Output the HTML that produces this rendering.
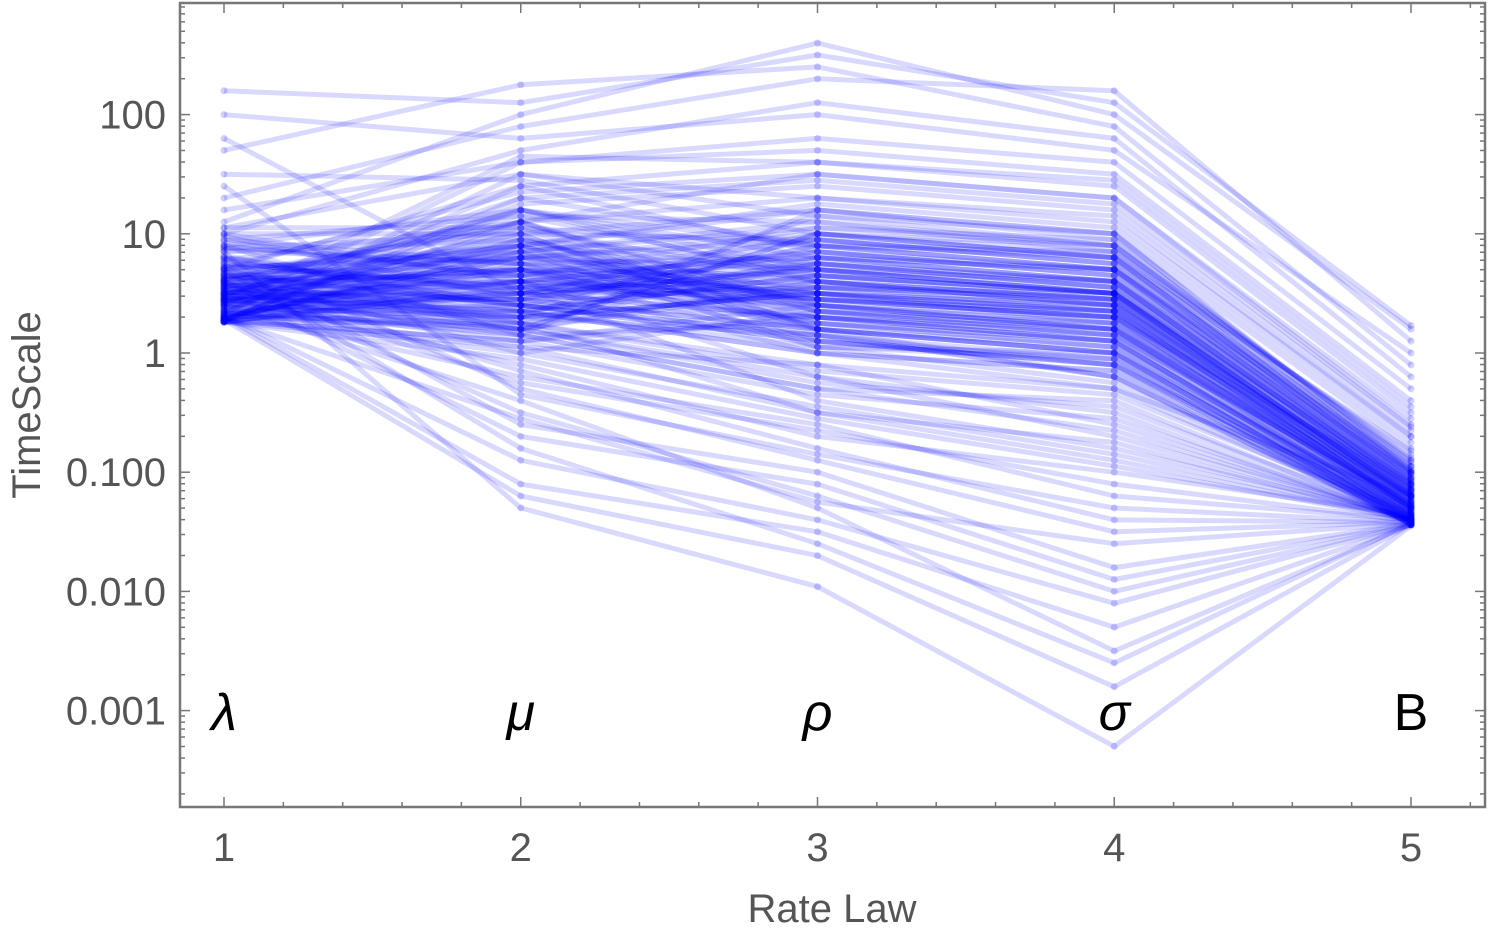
<!DOCTYPE html>
<html><head><meta charset="utf-8"><style>
html,body{margin:0;padding:0;background:#fff;}
svg{display:block;}
text{font-family:"Liberation Sans",sans-serif;}
</style></head><body>
<svg id="chart" width="1500" height="935" viewBox="0 0 1500 935" xmlns="http://www.w3.org/2000/svg">
<g id="lines"></g>
<g id="axes"></g>
</svg>
<script>
const categories=[1,2,3,4,5];
const axisLabels=["λ","μ","ρ","σ","B"];
const yTickValues=[2,1,0,-1,-2,-3];
const yTickLabels=["100","10","1","0.100","0.010","0.001"];
const lam=[0.26,0.3,0.35,0.28,0.42,0.5,0.33,0.27,0.6,0.45,0.38,0.29,0.55,0.7,0.31,0.48,0.26,0.65,0.4,0.36,0.8,0.27,0.52,0.44,0.3,0.9,0.34,0.58,0.28,0.47,1.0,0.32,0.39,0.62,0.26,0.75,0.43,0.29,1.1,0.5,0.35,0.27,0.68,0.41,0.3,1.3,0.54,0.26,0.85,0.37,0.46,0.28,0.6,1.5,0.33,0.27,0.72,0.4,0.31,0.95,0.49,0.26,1.7,0.36,0.57,0.29,0.44,1.2,0.3,0.66,0.27,0.53,2.0,0.38,0.32,0.78,0.26,0.47,1.05,0.34,0.61,0.28,2.2,0.42,0.3,0.88,0.35,0.51,0.27,1.4,0.39,0.64,0.26,0.45,1.8,0.31,0.7,0.29,0.56,0.33,
0.4,0.55,0.7,0.45,0.6,0.8,0.5,0.65,0.9,0.42,0.58,0.75,0.48,1.0,0.62,0.52,0.85,0.44,0.68,0.95,0.5,0.72,0.46,0.6,1.05,0.54,0.78,0.41,0.66,0.88,0.57,0.47,0.82,0.63,0.5,0.98,0.43,0.7,0.59,0.76,0.52,0.9,0.45,0.64,0.8,0.55,0.49,0.73,0.61,0.93,0.44,0.67,0.53,0.86,0.58,0.71,0.48,0.62,1.0,0.56];
const mu=[0.5,0.8,-0.2,1.2,0.3,0.6,1.5,0.1,-0.5,0.9,0.4,1.1,0.7,-0.8,0.2,1.3,0.55,0.0,1.6,0.35,-0.3,0.75,1.0,0.45,-1.1,0.65,1.4,0.25,0.85,-0.1,1.7,0.5,0.15,1.15,0.6,-0.6,0.95,0.3,2.0,0.7,0.05,1.25,0.4,-0.4,0.8,1.9,0.2,0.55,-1.3,1.05,0.35,0.9,-0.15,1.45,0.6,0.1,1.35,0.45,-0.9,0.75,1.2,0.25,2.25,0.5,-0.25,0.85,0.65,1.6,0.0,0.4,0.95,-0.7,1.8,0.3,0.7,1.1,-0.05,0.55,1.5,0.2,0.6,-1.2,2.1,0.8,0.35,1.0,0.15,0.45,1.3,-0.35,0.7,0.9,0.05,1.65,0.5,0.25,1.4,-0.55,0.8,0.4,
0.6,0.3,0.9,0.2,1.1,0.5,0.75,0.4,1.2,0.1,0.85,0.55,0.35,1.0,0.65,0.25,0.95,0.45,0.7,1.15,0.15,0.8,0.5,0.3,1.05,0.6,0.4,0.9,0.2,0.75,0.55,1.1,0.35,0.65,0.85,0.45,1.0,0.25,0.7,0.5,0.95,0.15,0.6,0.8,0.4,1.2,0.3,0.55,0.9,0.65,0.2,1.05,0.45,0.75,0.35,0.85,0.5,1.1,0.6,0.7];
const rho=[0.3,1.0,-0.6,0.8,0.5,-0.2,1.3,0.4,-1.2,0.7,0.1,1.5,0.2,-1.6,0.6,0.9,-0.4,0.35,1.7,0.0,-0.9,0.55,1.2,0.75,-1.5,0.25,1.6,-0.1,0.45,-0.7,2.1,0.65,-0.3,1.1,0.85,-1.0,0.4,0.15,2.6,0.5,-0.5,1.4,0.3,-1.3,0.95,2.3,-0.2,0.7,-1.96,0.6,0.05,1.25,-0.8,1.0,0.45,-0.35,1.5,0.2,-1.4,0.8,0.9,-0.15,2.4,0.55,-0.65,0.35,1.05,1.8,-0.45,0.1,0.75,-1.1,2.0,0.5,0.25,1.3,-0.55,0.6,1.15,-0.25,0.4,-1.7,2.5,0.7,0.0,0.95,-0.3,0.2,1.45,-0.85,0.65,1.2,-0.1,1.6,0.3,-0.5,0.85,-1.25,0.45,0.15,
0.5,0.8,0.2,1.0,0.4,0.7,0.1,0.9,0.6,0.3,1.1,0.45,0.75,0.15,0.95,0.55,0.35,0.85,0.05,0.65,1.2,0.25,0.7,0.5,0.9,0.0,0.6,0.4,1.0,0.3,0.8,0.2,0.65,0.45,1.05,0.55,0.1,0.75,0.35,0.95,0.5,0.25,0.85,0.6,0.15,0.7,1.15,0.4,0.3,0.8,0.55,0.2,0.9,0.45,0.65,0.05,1.0,0.35,0.75,0.5];
const sigma=[0.2,0.9,-1.2,0.6,0.4,-0.5,1.1,0.3,-2.0,0.5,-0.1,1.3,0.0,-2.6,0.45,0.7,-0.8,0.25,1.5,-0.3,-1.5,0.35,1.0,0.55,-2.3,0.1,1.4,-0.6,0.3,-1.0,1.8,0.5,-0.4,0.85,0.65,-1.8,0.2,-0.2,2.0,0.4,-0.9,1.2,0.15,-2.5,0.75,2.2,-0.7,0.5,-3.3,0.45,-0.25,1.05,-1.4,0.8,0.3,-0.55,1.3,0.05,-2.1,0.6,0.7,-0.35,1.9,0.4,-1.1,0.2,0.9,1.6,-0.85,-0.05,0.55,-1.9,1.7,0.35,0.1,1.15,-0.95,0.45,1.0,-0.45,0.25,-2.8,2.1,0.5,-0.15,0.8,-0.65,0.0,1.25,-1.3,0.5,0.95,-0.3,1.45,0.15,-0.75,0.7,-1.6,0.35,-0.1,
0.3,0.6,0.0,0.8,0.2,0.5,-0.1,0.7,0.4,0.1,0.9,0.35,0.55,-0.2,0.75,0.45,0.15,0.65,-0.05,0.5,1.0,0.05,0.6,0.25,0.85,-0.15,0.4,0.2,0.8,0.1,0.7,0.0,0.45,0.3,0.95,0.5,-0.1,0.6,0.15,0.75,0.35,0.05,0.65,0.4,-0.05,0.55,0.9,0.25,0.1,0.7,0.45,-0.2,0.8,0.3,0.5,0.0,0.85,0.2,0.6,0.35];
const bVals=[-1.2,-0.9,-1.4,-1.0,-1.3,-1.42,-0.7,-1.1,-1.44,-1.25,-1.35,-0.6,-1.4,-1.43,-1.15,-0.95,-1.38,-1.3,-0.4,-1.2,-1.42,-1.28,-0.8,-1.05,-1.44,-1.33,-0.5,-1.4,-1.2,-1.36,-0.2,-1.1,-1.41,-0.85,-1.0,-1.43,-1.3,-1.38,0.2,-1.15,-1.4,-0.65,-1.25,-1.44,-0.9,0.1,-1.39,-1.2,-1.45,-1.22,-1.37,-0.75,-1.42,-1.0,-1.27,-1.4,-0.55,-1.32,-1.44,-1.05,-0.95,-1.35,-0.1,-1.18,-1.41,-1.3,-0.88,-0.3,-1.39,-1.34,-1.1,-1.43,0.0,-1.24,-1.36,-0.7,-1.4,-1.2,-0.98,-1.38,-1.28,-1.44,0.23,-1.08,-1.37,-0.82,-1.4,-1.3,-0.62,-1.42,-1.14,-0.92,-1.39,-0.45,-1.26,-1.41,-1.02,-1.43,-1.19,-1.35,
-1.3,-1.15,-1.4,-1.05,-1.35,-1.2,-1.42,-1.1,-1.25,-1.38,-1.0,-1.3,-1.18,-1.43,-1.08,-1.28,-1.4,-1.12,-1.44,-1.22,-0.95,-1.41,-1.16,-1.33,-1.02,-1.44,-1.26,-1.37,-1.06,-1.39,-1.14,-1.42,-1.24,-1.34,-0.98,-1.21,-1.43,-1.17,-1.36,-1.1,-1.29,-1.41,-1.13,-1.27,-1.44,-1.19,-1.0,-1.32,-1.38,-1.11,-1.23,-1.44,-1.07,-1.31,-1.2,-1.42,-1.04,-1.35,-1.15,-1.29];

const NS="http://www.w3.org/2000/svg";
const L=180,R=1485,T=3,B=807;
const xs=v=>224+(v-1)*296.75;
const ys=v=>353-v*119.2;
function mk(tag,attrs,parent){const e=document.createElementNS(NS,tag);for(const k in attrs)e.setAttribute(k,attrs[k]);parent.appendChild(e);return e;}
const lg=document.getElementById('lines');
const ax=document.getElementById('axes');
const cols=[lam,mu,rho,sigma,bVals];
for(let i=0;i<lam.length;i++){
  const pts=cols.map((c,j)=>xs(categories[j]).toFixed(1)+","+ys(c[i]).toFixed(1)).join(" ");
  const pl=mk('polyline',{points:pts,fill:'none',stroke:'#0000ff','stroke-opacity':0.15,'stroke-width':5,'stroke-linejoin':'round'},lg);
  
  
  cols.forEach((c,j)=>{
    const d=mk('circle',{cx:xs(categories[j]),cy:ys(c[i]),r:3.5,fill:'#0000ff','fill-opacity':0.18},lg);
    
    
  });
}
const fr=mk('rect',{x:L,y:T,width:R-L,height:B-T,fill:'none',stroke:'#777','stroke-width':2.5},ax);


for(let d=-4;d<=3;d++){for(let m=1;m<=9;m++){
  const v=d+Math.log10(m);const y=ys(v);if(y<T||y>B)continue;
  const len=m===1?10:5;
  mk('line',{x1:L,x2:L+len,y1:y,y2:y,stroke:'#777','stroke-width':1.5},ax);
  mk('line',{x1:R,x2:R-len,y1:y,y2:y,stroke:'#777','stroke-width':1.5},ax);
}}
yTickValues.forEach((v,i)=>{
  const t=mk('text',{x:166,y:ys(v)+14,'text-anchor':'end','font-size':40,fill:'#555'},ax);
  t.textContent=yTickLabels[i];
  
  
});
for(let v=0.8;v<=5.41;v+=0.2){const x=xs(v);if(x<L||x>R)continue;
  const major=Math.abs(v-Math.round(v))<1e-6;const len=major?10:5;
  mk('line',{x1:x,x2:x,y1:B,y2:B-len,stroke:'#777','stroke-width':1.5},ax);
  mk('line',{x1:x,x2:x,y1:T,y2:T+len,stroke:'#777','stroke-width':1.5},ax);
}
categories.forEach((c,i)=>{
  const t=mk('text',{x:xs(c),y:861,'text-anchor':'middle','font-size':40,fill:'#555'},ax);
  t.textContent=String(c);
  
  
  const g=mk('text',{x:xs(c),y:730,'text-anchor':'middle','font-size':52,fill:'#000','font-style':i<4?'italic':'normal'},ax);
  g.textContent=axisLabels[i];
  
  
});
const xt=mk('text',{x:832,y:922,'text-anchor':'middle','font-size':40,fill:'#555'},ax);
xt.textContent="Rate Law";


const yt=mk('text',{x:0,y:0,'text-anchor':'middle','font-size':40,fill:'#555',transform:'translate(40,405) rotate(-90)'},ax);
yt.textContent="TimeScale";


</script>
</body></html>
